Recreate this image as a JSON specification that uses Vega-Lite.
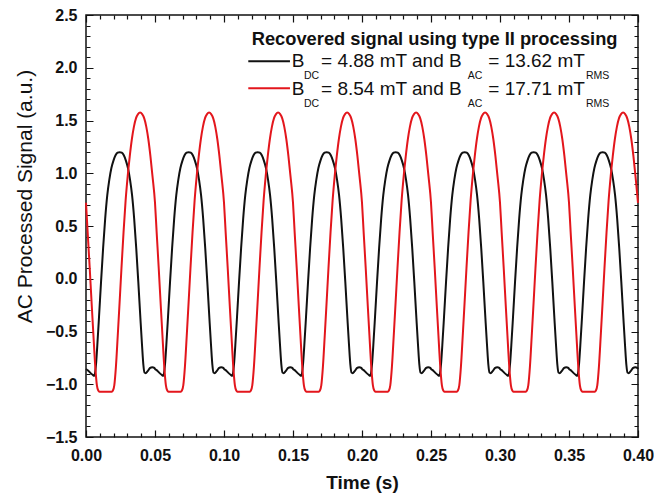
{
"$schema": "https://vega.github.io/schema/vega-lite/v6.json",
"width": 552,
"height": 422,
"autosize": {"type": "none"},
"padding": {"left": 86, "top": 15, "right": 16, "bottom": 57},
"background": "white",
"config": {"view": {"stroke": "#111111", "strokeWidth": 1.5}, "font": "Liberation Sans"},
"datasets": {
"black": [
{"t":0,"v":-0.855},{"t":0.0015,"v":-0.87},{"t":0.003,"v":-0.89},{"t":0.0048,"v":-0.91},{"t":0.006,"v":-0.92},{"t":0.0068,"v":-0.87},{"t":0.0072,"v":-0.82},{"t":0.0082,"v":-0.63},{"t":0.0094,"v":-0.37},{"t":0.0109,"v":-0.03},{"t":0.0124,"v":0.29},{"t":0.0139,"v":0.57},{"t":0.0154,"v":0.79},{"t":0.0169,"v":0.94},{"t":0.0184,"v":1.05},{"t":0.0199,"v":1.12},{"t":0.0214,"v":1.17},{"t":0.0229,"v":1.195},{"t":0.0244,"v":1.2},{"t":0.0259,"v":1.195},{"t":0.0274,"v":1.17},{"t":0.0289,"v":1.12},{"t":0.0304,"v":1.05},{"t":0.0319,"v":0.94},{"t":0.0334,"v":0.79},{"t":0.0349,"v":0.57},{"t":0.0364,"v":0.29},{"t":0.0379,"v":-0.03},{"t":0.0394,"v":-0.37},{"t":0.0406,"v":-0.63},{"t":0.0416,"v":-0.82},{"t":0.0424,"v":-0.89},{"t":0.0432,"v":-0.895},{"t":0.0447,"v":-0.875},{"t":0.0465,"v":-0.845},{"t":0.048,"v":-0.838},{"t":0.0495,"v":-0.845},
{"t":0.05,"v":-0.855},{"t":0.0515,"v":-0.87},{"t":0.053,"v":-0.89},{"t":0.0548,"v":-0.91},{"t":0.056,"v":-0.92},{"t":0.0568,"v":-0.87},{"t":0.0572,"v":-0.82},{"t":0.0582,"v":-0.63},{"t":0.0594,"v":-0.37},{"t":0.0609,"v":-0.03},{"t":0.0624,"v":0.29},{"t":0.0639,"v":0.57},{"t":0.0654,"v":0.79},{"t":0.0669,"v":0.94},{"t":0.0684,"v":1.05},{"t":0.0699,"v":1.12},{"t":0.0714,"v":1.17},{"t":0.0729,"v":1.195},{"t":0.0744,"v":1.2},{"t":0.0759,"v":1.195},{"t":0.0774,"v":1.17},{"t":0.0789,"v":1.12},{"t":0.0804,"v":1.05},{"t":0.0819,"v":0.94},{"t":0.0834,"v":0.79},{"t":0.0849,"v":0.57},{"t":0.0864,"v":0.29},{"t":0.0879,"v":-0.03},{"t":0.0894,"v":-0.37},{"t":0.0906,"v":-0.63},{"t":0.0916,"v":-0.82},{"t":0.0924,"v":-0.89},{"t":0.0932,"v":-0.895},{"t":0.0947,"v":-0.875},{"t":0.0965,"v":-0.845},{"t":0.098,"v":-0.838},{"t":0.0995,"v":-0.845},
{"t":0.1,"v":-0.855},{"t":0.1015,"v":-0.87},{"t":0.103,"v":-0.89},{"t":0.1048,"v":-0.91},{"t":0.106,"v":-0.92},{"t":0.1068,"v":-0.87},{"t":0.1072,"v":-0.82},{"t":0.1082,"v":-0.63},{"t":0.1094,"v":-0.37},{"t":0.1109,"v":-0.03},{"t":0.1124,"v":0.29},{"t":0.1139,"v":0.57},{"t":0.1154,"v":0.79},{"t":0.1169,"v":0.94},{"t":0.1184,"v":1.05},{"t":0.1199,"v":1.12},{"t":0.1214,"v":1.17},{"t":0.1229,"v":1.195},{"t":0.1244,"v":1.2},{"t":0.1259,"v":1.195},{"t":0.1274,"v":1.17},{"t":0.1289,"v":1.12},{"t":0.1304,"v":1.05},{"t":0.1319,"v":0.94},{"t":0.1334,"v":0.79},{"t":0.1349,"v":0.57},{"t":0.1364,"v":0.29},{"t":0.1379,"v":-0.03},{"t":0.1394,"v":-0.37},{"t":0.1406,"v":-0.63},{"t":0.1416,"v":-0.82},{"t":0.1424,"v":-0.89},{"t":0.1432,"v":-0.895},{"t":0.1447,"v":-0.875},{"t":0.1465,"v":-0.845},{"t":0.148,"v":-0.838},{"t":0.1495,"v":-0.845},
{"t":0.15,"v":-0.855},{"t":0.1515,"v":-0.87},{"t":0.153,"v":-0.89},{"t":0.1548,"v":-0.91},{"t":0.156,"v":-0.92},{"t":0.1568,"v":-0.87},{"t":0.1572,"v":-0.82},{"t":0.1582,"v":-0.63},{"t":0.1594,"v":-0.37},{"t":0.1609,"v":-0.03},{"t":0.1624,"v":0.29},{"t":0.1639,"v":0.57},{"t":0.1654,"v":0.79},{"t":0.1669,"v":0.94},{"t":0.1684,"v":1.05},{"t":0.1699,"v":1.12},{"t":0.1714,"v":1.17},{"t":0.1729,"v":1.195},{"t":0.1744,"v":1.2},{"t":0.1759,"v":1.195},{"t":0.1774,"v":1.17},{"t":0.1789,"v":1.12},{"t":0.1804,"v":1.05},{"t":0.1819,"v":0.94},{"t":0.1834,"v":0.79},{"t":0.1849,"v":0.57},{"t":0.1864,"v":0.29},{"t":0.1879,"v":-0.03},{"t":0.1894,"v":-0.37},{"t":0.1906,"v":-0.63},{"t":0.1916,"v":-0.82},{"t":0.1924,"v":-0.89},{"t":0.1932,"v":-0.895},{"t":0.1947,"v":-0.875},{"t":0.1965,"v":-0.845},{"t":0.198,"v":-0.838},{"t":0.1995,"v":-0.845},
{"t":0.2,"v":-0.855},{"t":0.2015,"v":-0.87},{"t":0.203,"v":-0.89},{"t":0.2048,"v":-0.91},{"t":0.206,"v":-0.92},{"t":0.2068,"v":-0.87},{"t":0.2072,"v":-0.82},{"t":0.2082,"v":-0.63},{"t":0.2094,"v":-0.37},{"t":0.2109,"v":-0.03},{"t":0.2124,"v":0.29},{"t":0.2139,"v":0.57},{"t":0.2154,"v":0.79},{"t":0.2169,"v":0.94},{"t":0.2184,"v":1.05},{"t":0.2199,"v":1.12},{"t":0.2214,"v":1.17},{"t":0.2229,"v":1.195},{"t":0.2244,"v":1.2},{"t":0.2259,"v":1.195},{"t":0.2274,"v":1.17},{"t":0.2289,"v":1.12},{"t":0.2304,"v":1.05},{"t":0.2319,"v":0.94},{"t":0.2334,"v":0.79},{"t":0.2349,"v":0.57},{"t":0.2364,"v":0.29},{"t":0.2379,"v":-0.03},{"t":0.2394,"v":-0.37},{"t":0.2406,"v":-0.63},{"t":0.2416,"v":-0.82},{"t":0.2424,"v":-0.89},{"t":0.2432,"v":-0.895},{"t":0.2447,"v":-0.875},{"t":0.2465,"v":-0.845},{"t":0.248,"v":-0.838},{"t":0.2495,"v":-0.845},
{"t":0.25,"v":-0.855},{"t":0.2515,"v":-0.87},{"t":0.253,"v":-0.89},{"t":0.2548,"v":-0.91},{"t":0.256,"v":-0.92},{"t":0.2568,"v":-0.87},{"t":0.2572,"v":-0.82},{"t":0.2582,"v":-0.63},{"t":0.2594,"v":-0.37},{"t":0.2609,"v":-0.03},{"t":0.2624,"v":0.29},{"t":0.2639,"v":0.57},{"t":0.2654,"v":0.79},{"t":0.2669,"v":0.94},{"t":0.2684,"v":1.05},{"t":0.2699,"v":1.12},{"t":0.2714,"v":1.17},{"t":0.2729,"v":1.195},{"t":0.2744,"v":1.2},{"t":0.2759,"v":1.195},{"t":0.2774,"v":1.17},{"t":0.2789,"v":1.12},{"t":0.2804,"v":1.05},{"t":0.2819,"v":0.94},{"t":0.2834,"v":0.79},{"t":0.2849,"v":0.57},{"t":0.2864,"v":0.29},{"t":0.2879,"v":-0.03},{"t":0.2894,"v":-0.37},{"t":0.2906,"v":-0.63},{"t":0.2916,"v":-0.82},{"t":0.2924,"v":-0.89},{"t":0.2932,"v":-0.895},{"t":0.2947,"v":-0.875},{"t":0.2965,"v":-0.845},{"t":0.298,"v":-0.838},{"t":0.2995,"v":-0.845},
{"t":0.3,"v":-0.855},{"t":0.3015,"v":-0.87},{"t":0.303,"v":-0.89},{"t":0.3048,"v":-0.91},{"t":0.306,"v":-0.92},{"t":0.3068,"v":-0.87},{"t":0.3072,"v":-0.82},{"t":0.3082,"v":-0.63},{"t":0.3094,"v":-0.37},{"t":0.3109,"v":-0.03},{"t":0.3124,"v":0.29},{"t":0.3139,"v":0.57},{"t":0.3154,"v":0.79},{"t":0.3169,"v":0.94},{"t":0.3184,"v":1.05},{"t":0.3199,"v":1.12},{"t":0.3214,"v":1.17},{"t":0.3229,"v":1.195},{"t":0.3244,"v":1.2},{"t":0.3259,"v":1.195},{"t":0.3274,"v":1.17},{"t":0.3289,"v":1.12},{"t":0.3304,"v":1.05},{"t":0.3319,"v":0.94},{"t":0.3334,"v":0.79},{"t":0.3349,"v":0.57},{"t":0.3364,"v":0.29},{"t":0.3379,"v":-0.03},{"t":0.3394,"v":-0.37},{"t":0.3406,"v":-0.63},{"t":0.3416,"v":-0.82},{"t":0.3424,"v":-0.89},{"t":0.3432,"v":-0.895},{"t":0.3447,"v":-0.875},{"t":0.3465,"v":-0.845},{"t":0.348,"v":-0.838},{"t":0.3495,"v":-0.845},
{"t":0.35,"v":-0.855},{"t":0.3515,"v":-0.87},{"t":0.353,"v":-0.89},{"t":0.3548,"v":-0.91},{"t":0.356,"v":-0.92},{"t":0.3568,"v":-0.87},{"t":0.3572,"v":-0.82},{"t":0.3582,"v":-0.63},{"t":0.3594,"v":-0.37},{"t":0.3609,"v":-0.03},{"t":0.3624,"v":0.29},{"t":0.3639,"v":0.57},{"t":0.3654,"v":0.79},{"t":0.3669,"v":0.94},{"t":0.3684,"v":1.05},{"t":0.3699,"v":1.12},{"t":0.3714,"v":1.17},{"t":0.3729,"v":1.195},{"t":0.3744,"v":1.2},{"t":0.3759,"v":1.195},{"t":0.3774,"v":1.17},{"t":0.3789,"v":1.12},{"t":0.3804,"v":1.05},{"t":0.3819,"v":0.94},{"t":0.3834,"v":0.79},{"t":0.3849,"v":0.57},{"t":0.3864,"v":0.29},{"t":0.3879,"v":-0.03},{"t":0.3894,"v":-0.37},{"t":0.3906,"v":-0.63},{"t":0.3916,"v":-0.82},{"t":0.3924,"v":-0.89},{"t":0.3932,"v":-0.895},{"t":0.3947,"v":-0.875},{"t":0.3965,"v":-0.845},{"t":0.398,"v":-0.838},{"t":0.3995,"v":-0.845},
{"t":0.4,"v":-0.855}
],
"red": [
{"t":0,"v":0.72},{"t":0.0012,"v":0.44},{"t":0.0027,"v":0.1},{"t":0.0042,"v":-0.26},{"t":0.0054,"v":-0.54},{"t":0.0067,"v":-0.83},{"t":0.0079,"v":-1.01},{"t":0.0089,"v":-1.06},{"t":0.0097,"v":-1.07},{"t":0.0187,"v":-1.07},{"t":0.0195,"v":-1.06},{"t":0.0205,"v":-1.01},{"t":0.0217,"v":-0.83},{"t":0.023,"v":-0.54},{"t":0.0242,"v":-0.26},{"t":0.0257,"v":0.1},{"t":0.0272,"v":0.44},{"t":0.0287,"v":0.74},{"t":0.0302,"v":0.97},{"t":0.0317,"v":1.16},{"t":0.0332,"v":1.32},{"t":0.0347,"v":1.44},{"t":0.0362,"v":1.52},{"t":0.0377,"v":1.56},{"t":0.0392,"v":1.575},{"t":0.0407,"v":1.56},{"t":0.0422,"v":1.52},{"t":0.0437,"v":1.44},{"t":0.0452,"v":1.32},{"t":0.0467,"v":1.16},{"t":0.0482,"v":0.97},
{"t":0.05,"v":0.72},{"t":0.0512,"v":0.44},{"t":0.0527,"v":0.1},{"t":0.0542,"v":-0.26},{"t":0.0554,"v":-0.54},{"t":0.0567,"v":-0.83},{"t":0.0579,"v":-1.01},{"t":0.0589,"v":-1.06},{"t":0.0597,"v":-1.07},{"t":0.0687,"v":-1.07},{"t":0.0695,"v":-1.06},{"t":0.0705,"v":-1.01},{"t":0.0717,"v":-0.83},{"t":0.073,"v":-0.54},{"t":0.0742,"v":-0.26},{"t":0.0757,"v":0.1},{"t":0.0772,"v":0.44},{"t":0.0787,"v":0.74},{"t":0.0802,"v":0.97},{"t":0.0817,"v":1.16},{"t":0.0832,"v":1.32},{"t":0.0847,"v":1.44},{"t":0.0862,"v":1.52},{"t":0.0877,"v":1.56},{"t":0.0892,"v":1.575},{"t":0.0907,"v":1.56},{"t":0.0922,"v":1.52},{"t":0.0937,"v":1.44},{"t":0.0952,"v":1.32},{"t":0.0967,"v":1.16},{"t":0.0982,"v":0.97},
{"t":0.1,"v":0.72},{"t":0.1012,"v":0.44},{"t":0.1027,"v":0.1},{"t":0.1042,"v":-0.26},{"t":0.1054,"v":-0.54},{"t":0.1067,"v":-0.83},{"t":0.1079,"v":-1.01},{"t":0.1089,"v":-1.06},{"t":0.1097,"v":-1.07},{"t":0.1187,"v":-1.07},{"t":0.1195,"v":-1.06},{"t":0.1205,"v":-1.01},{"t":0.1217,"v":-0.83},{"t":0.123,"v":-0.54},{"t":0.1242,"v":-0.26},{"t":0.1257,"v":0.1},{"t":0.1272,"v":0.44},{"t":0.1287,"v":0.74},{"t":0.1302,"v":0.97},{"t":0.1317,"v":1.16},{"t":0.1332,"v":1.32},{"t":0.1347,"v":1.44},{"t":0.1362,"v":1.52},{"t":0.1377,"v":1.56},{"t":0.1392,"v":1.575},{"t":0.1407,"v":1.56},{"t":0.1422,"v":1.52},{"t":0.1437,"v":1.44},{"t":0.1452,"v":1.32},{"t":0.1467,"v":1.16},{"t":0.1482,"v":0.97},
{"t":0.15,"v":0.72},{"t":0.1512,"v":0.44},{"t":0.1527,"v":0.1},{"t":0.1542,"v":-0.26},{"t":0.1554,"v":-0.54},{"t":0.1567,"v":-0.83},{"t":0.1579,"v":-1.01},{"t":0.1589,"v":-1.06},{"t":0.1597,"v":-1.07},{"t":0.1687,"v":-1.07},{"t":0.1695,"v":-1.06},{"t":0.1705,"v":-1.01},{"t":0.1717,"v":-0.83},{"t":0.173,"v":-0.54},{"t":0.1742,"v":-0.26},{"t":0.1757,"v":0.1},{"t":0.1772,"v":0.44},{"t":0.1787,"v":0.74},{"t":0.1802,"v":0.97},{"t":0.1817,"v":1.16},{"t":0.1832,"v":1.32},{"t":0.1847,"v":1.44},{"t":0.1862,"v":1.52},{"t":0.1877,"v":1.56},{"t":0.1892,"v":1.575},{"t":0.1907,"v":1.56},{"t":0.1922,"v":1.52},{"t":0.1937,"v":1.44},{"t":0.1952,"v":1.32},{"t":0.1967,"v":1.16},{"t":0.1982,"v":0.97},
{"t":0.2,"v":0.72},{"t":0.2012,"v":0.44},{"t":0.2027,"v":0.1},{"t":0.2042,"v":-0.26},{"t":0.2054,"v":-0.54},{"t":0.2067,"v":-0.83},{"t":0.2079,"v":-1.01},{"t":0.2089,"v":-1.06},{"t":0.2097,"v":-1.07},{"t":0.2187,"v":-1.07},{"t":0.2195,"v":-1.06},{"t":0.2205,"v":-1.01},{"t":0.2217,"v":-0.83},{"t":0.223,"v":-0.54},{"t":0.2242,"v":-0.26},{"t":0.2257,"v":0.1},{"t":0.2272,"v":0.44},{"t":0.2287,"v":0.74},{"t":0.2302,"v":0.97},{"t":0.2317,"v":1.16},{"t":0.2332,"v":1.32},{"t":0.2347,"v":1.44},{"t":0.2362,"v":1.52},{"t":0.2377,"v":1.56},{"t":0.2392,"v":1.575},{"t":0.2407,"v":1.56},{"t":0.2422,"v":1.52},{"t":0.2437,"v":1.44},{"t":0.2452,"v":1.32},{"t":0.2467,"v":1.16},{"t":0.2482,"v":0.97},
{"t":0.25,"v":0.72},{"t":0.2512,"v":0.44},{"t":0.2527,"v":0.1},{"t":0.2542,"v":-0.26},{"t":0.2554,"v":-0.54},{"t":0.2567,"v":-0.83},{"t":0.2579,"v":-1.01},{"t":0.2589,"v":-1.06},{"t":0.2597,"v":-1.07},{"t":0.2687,"v":-1.07},{"t":0.2695,"v":-1.06},{"t":0.2705,"v":-1.01},{"t":0.2717,"v":-0.83},{"t":0.273,"v":-0.54},{"t":0.2742,"v":-0.26},{"t":0.2757,"v":0.1},{"t":0.2772,"v":0.44},{"t":0.2787,"v":0.74},{"t":0.2802,"v":0.97},{"t":0.2817,"v":1.16},{"t":0.2832,"v":1.32},{"t":0.2847,"v":1.44},{"t":0.2862,"v":1.52},{"t":0.2877,"v":1.56},{"t":0.2892,"v":1.575},{"t":0.2907,"v":1.56},{"t":0.2922,"v":1.52},{"t":0.2937,"v":1.44},{"t":0.2952,"v":1.32},{"t":0.2967,"v":1.16},{"t":0.2982,"v":0.97},
{"t":0.3,"v":0.72},{"t":0.3012,"v":0.44},{"t":0.3027,"v":0.1},{"t":0.3042,"v":-0.26},{"t":0.3054,"v":-0.54},{"t":0.3067,"v":-0.83},{"t":0.3079,"v":-1.01},{"t":0.3089,"v":-1.06},{"t":0.3097,"v":-1.07},{"t":0.3187,"v":-1.07},{"t":0.3195,"v":-1.06},{"t":0.3205,"v":-1.01},{"t":0.3217,"v":-0.83},{"t":0.323,"v":-0.54},{"t":0.3242,"v":-0.26},{"t":0.3257,"v":0.1},{"t":0.3272,"v":0.44},{"t":0.3287,"v":0.74},{"t":0.3302,"v":0.97},{"t":0.3317,"v":1.16},{"t":0.3332,"v":1.32},{"t":0.3347,"v":1.44},{"t":0.3362,"v":1.52},{"t":0.3377,"v":1.56},{"t":0.3392,"v":1.575},{"t":0.3407,"v":1.56},{"t":0.3422,"v":1.52},{"t":0.3437,"v":1.44},{"t":0.3452,"v":1.32},{"t":0.3467,"v":1.16},{"t":0.3482,"v":0.97},
{"t":0.35,"v":0.72},{"t":0.3512,"v":0.44},{"t":0.3527,"v":0.1},{"t":0.3542,"v":-0.26},{"t":0.3554,"v":-0.54},{"t":0.3567,"v":-0.83},{"t":0.3579,"v":-1.01},{"t":0.3589,"v":-1.06},{"t":0.3597,"v":-1.07},{"t":0.3687,"v":-1.07},{"t":0.3695,"v":-1.06},{"t":0.3705,"v":-1.01},{"t":0.3717,"v":-0.83},{"t":0.373,"v":-0.54},{"t":0.3742,"v":-0.26},{"t":0.3757,"v":0.1},{"t":0.3772,"v":0.44},{"t":0.3787,"v":0.74},{"t":0.3802,"v":0.97},{"t":0.3817,"v":1.16},{"t":0.3832,"v":1.32},{"t":0.3847,"v":1.44},{"t":0.3862,"v":1.52},{"t":0.3877,"v":1.56},{"t":0.3892,"v":1.575},{"t":0.3907,"v":1.56},{"t":0.3922,"v":1.52},{"t":0.3937,"v":1.44},{"t":0.3952,"v":1.32},{"t":0.3967,"v":1.16},{"t":0.3982,"v":0.97},
{"t":0.4,"v":0.72}
],
"legendMain": [
{"label":"B","t":0.1491,"v":2.007},
{"label":"= 4.88 mT and B","t":0.1703,"v":2.007},
{"label":"= 13.62 mT","t":0.2915,"v":2.007},
{"label":"B","t":0.1491,"v":1.745},
{"label":"= 8.54 mT and B","t":0.1703,"v":1.745},
{"label":"= 17.71 mT","t":0.2915,"v":1.745}
],
"legendSub": [
{"label":"DC","t":0.158,"v":1.889},
{"label":"AC","t":0.2766,"v":1.889},
{"label":"RMS","t":0.3623,"v":1.889},
{"label":"DC","t":0.158,"v":1.631},
{"label":"AC","t":0.2766,"v":1.631},
{"label":"RMS","t":0.3623,"v":1.631}
]
},
"layer": [
{
"data": {"name": "black"},
"mark": {"type": "line", "color": "#111111", "strokeWidth": 2, "interpolate": "monotone"},
"encoding": {
"x": {"field": "t", "type": "quantitative", "scale": {"domain": [0, 0.4], "nice": false, "zero": false},
"axis": {"orient": "bottom", "domain": false, "ticks": false,
"grid": true, "gridColor": "#111111", "gridOpacity": 1, "gridWidth": 1.2, "gridDash": [7, 408],
"values": [0,0.05,0.1,0.15,0.2,0.25,0.3,0.35,0.4], "format": ".2f",
"labelFont": "Liberation Sans", "labelFontSize": 16, "labelFontWeight": "bold", "labelColor": "#111111",
"labelBaseline": "alphabetic", "labelPadding": 23, "labelFlush": false, "labelOverlap": false,
"title": "Time (s)", "titleFont": "Liberation Sans", "titleFontSize": 19, "titleFontWeight": "bold", "titleColor": "#111111",
"titleBaseline": "alphabetic", "titleY": 51}},
"y": {"field": "v", "type": "quantitative", "scale": {"domain": [-1.5, 2.5], "nice": false, "zero": false},
"axis": {"orient": "left", "domain": false, "ticks": false,
"grid": true, "gridColor": "#111111", "gridOpacity": 1, "gridWidth": 1.2, "gridDash": [7, 538],
"values": [-1.5,-1,-0.5,0,0.5,1,1.5,2,2.5], "format": ".1f",
"labelFont": "Liberation Sans", "labelFontSize": 16, "labelFontWeight": "bold", "labelColor": "#111111",
"labelPadding": 9, "labelFlush": false, "labelOverlap": false,
"title": "AC Processed Signal (a.u.)", "titleFont": "Liberation Sans", "titleFontSize": 21, "titleFontWeight": "normal", "titleColor": "#111111",
"titleAngle": 270, "titleAlign": "center", "titleBaseline": "alphabetic", "titleX": -55, "titleY": 181}}
}
},
{
"data": {"name": "red"},
"mark": {"type": "line", "color": "#e3161c", "strokeWidth": 2, "interpolate": "monotone"},
"encoding": {
"x": {"field": "t", "type": "quantitative", "scale": {"domain": [0, 0.4], "nice": false, "zero": false}, "axis": null},
"y": {"field": "v", "type": "quantitative", "scale": {"domain": [-1.5, 2.5], "nice": false, "zero": false}, "axis": null}
}
},
{
"data": {"values": [{}]},
"mark": {"type": "rule", "color": "#111111", "strokeWidth": 2},
"encoding": {
"x": {"datum": 0.1176, "type": "quantitative", "scale": {"domain": [0, 0.4], "nice": false, "zero": false},
"axis": {"orient": "bottom", "labels": false, "title": null, "domain": false, "ticks": false,
"grid": true, "gridColor": "#111111", "gridOpacity": 1, "gridWidth": 1.2, "gridDash": [4, 414],
"values": [0.01,0.02,0.03,0.04,0.06,0.07,0.08,0.09,0.11,0.12,0.13,0.14,0.16,0.17,0.18,0.19,0.21,0.22,0.23,0.24,0.26,0.27,0.28,0.29,0.31,0.32,0.33,0.34,0.36,0.37,0.38,0.39]}},
"x2": {"datum": 0.1478},
"y": {"datum": 2.062, "type": "quantitative", "scale": {"domain": [-1.5, 2.5], "nice": false, "zero": false},
"axis": {"orient": "left", "labels": false, "title": null, "domain": false, "ticks": false,
"grid": true, "gridColor": "#111111", "gridOpacity": 1, "gridWidth": 1.2, "gridDash": [4, 544],
"values": [-1.4,-1.3,-1.2,-1.1,-0.9,-0.8,-0.7,-0.6,-0.4,-0.3,-0.2,-0.1,0.1,0.2,0.3,0.4,0.6,0.7,0.8,0.9,1.1,1.2,1.3,1.4,1.6,1.7,1.8,1.9,2.1,2.2,2.3,2.4]}}
}
},
{
"data": {"values": [{}]},
"mark": {"type": "rule", "color": "#e3161c", "strokeWidth": 2},
"encoding": {
"x": {"datum": 0.1176, "type": "quantitative", "scale": {"domain": [0, 0.4], "nice": false, "zero": false}, "axis": null},
"x2": {"datum": 0.1478},
"y": {"datum": 1.805, "type": "quantitative", "scale": {"domain": [-1.5, 2.5], "nice": false, "zero": false}, "axis": null}
}
},
{
"data": {"values": [{}]},
"mark": {"type": "text", "text": "Recovered signal using type II processing", "align": "left", "baseline": "alphabetic", "font": "Liberation Sans", "fontSize": 18.3, "fontWeight": "bold", "color": "#111111"},
"encoding": {
"x": {"datum": 0.1201, "type": "quantitative", "scale": {"domain": [0, 0.4], "nice": false, "zero": false}, "axis": null},
"y": {"datum": 2.22, "type": "quantitative", "scale": {"domain": [-1.5, 2.5], "nice": false, "zero": false}, "axis": null}
}
},
{
"data": {"name": "legendMain"},
"mark": {"type": "text", "align": "left", "baseline": "alphabetic", "font": "Liberation Sans", "fontSize": 19, "color": "#111111"},
"encoding": {
"x": {"field": "t", "type": "quantitative", "scale": {"domain": [0, 0.4], "nice": false, "zero": false}, "axis": null},
"y": {"field": "v", "type": "quantitative", "scale": {"domain": [-1.5, 2.5], "nice": false, "zero": false}, "axis": null},
"text": {"field": "label"}
}
},
{
"data": {"name": "legendSub"},
"mark": {"type": "text", "align": "left", "baseline": "alphabetic", "font": "Liberation Sans", "fontSize": 10.5, "color": "#111111"},
"encoding": {
"x": {"field": "t", "type": "quantitative", "scale": {"domain": [0, 0.4], "nice": false, "zero": false}, "axis": null},
"y": {"field": "v", "type": "quantitative", "scale": {"domain": [-1.5, 2.5], "nice": false, "zero": false}, "axis": null},
"text": {"field": "label"}
}
}
],
"resolve": {"scale": {"x": "independent", "y": "independent"}, "axis": {"x": "independent", "y": "independent"}}
}
